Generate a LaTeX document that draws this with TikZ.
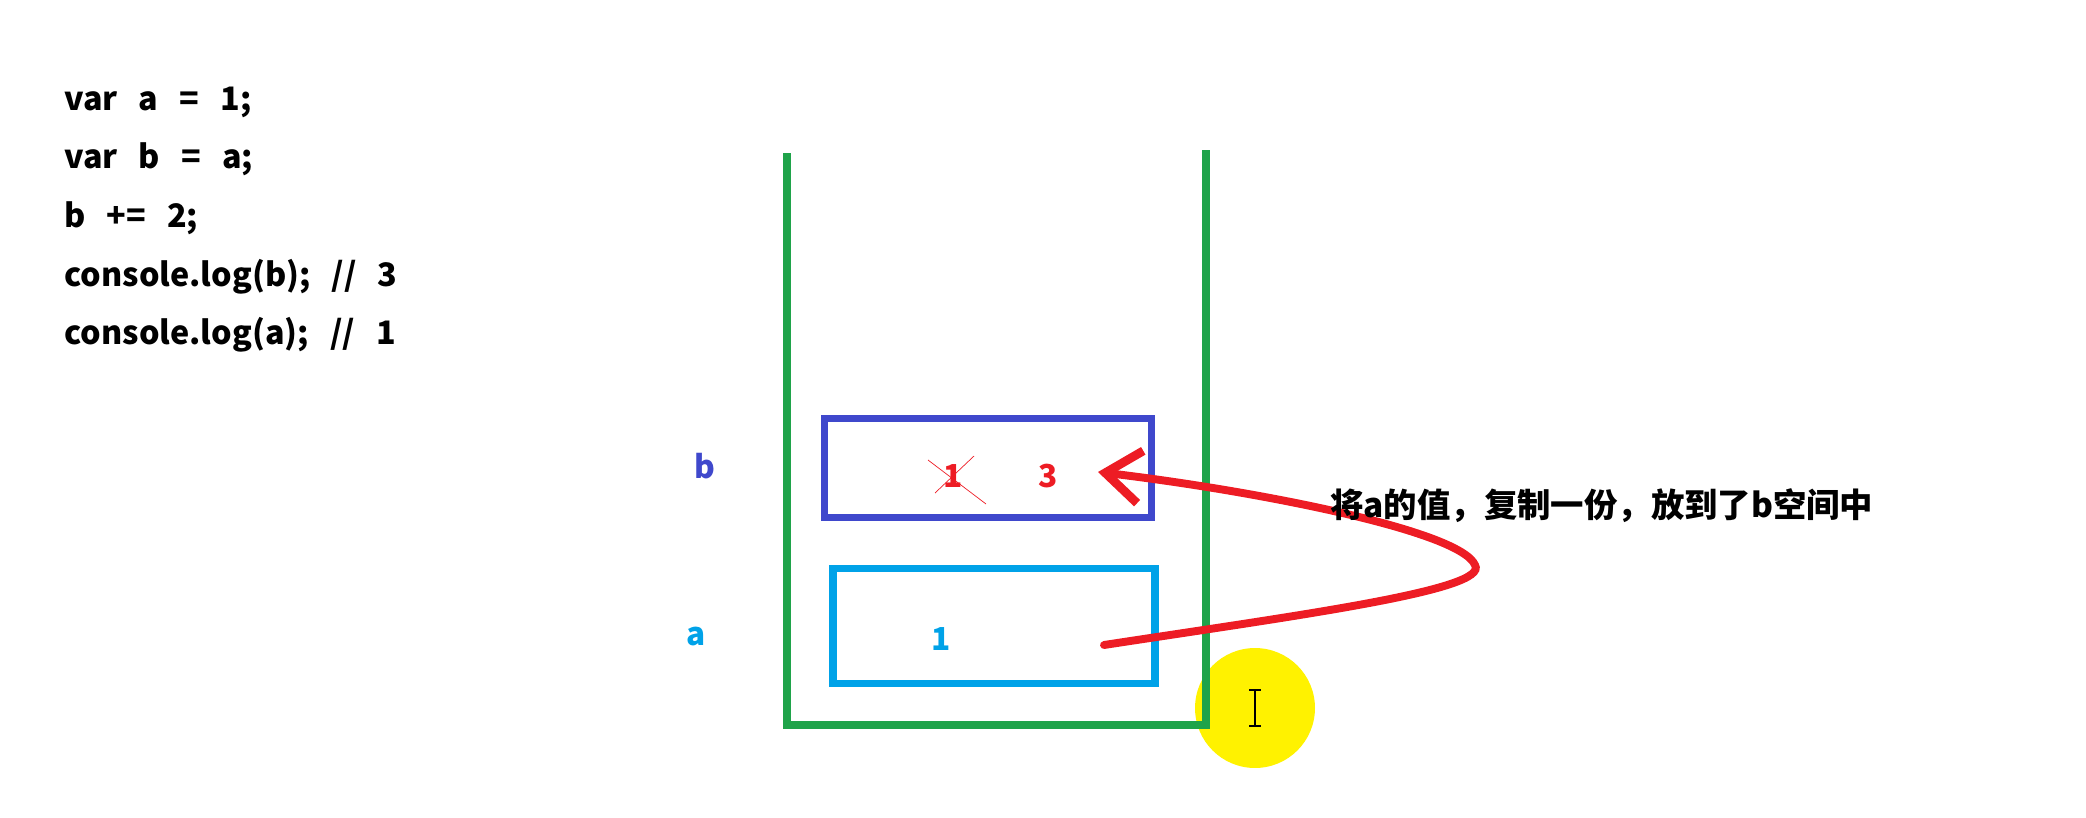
\documentclass[tikz,border=0pt]{standalone}
\usepackage{fontspec}
\setmainfont{Noto Sans CJK SC}
\usetikzlibrary{arrows.meta}
\definecolor{stackgreen}{HTML}{1FA34A}
\definecolor{bblue}{HTML}{3F48CC}
\definecolor{ablue}{HTML}{00A2E8}
\definecolor{penred}{HTML}{ED1C24}
\definecolor{hiyellow}{HTML}{FFF200}

\begin{document}
\begin{tikzpicture}[x=0.02cm, y=-0.02cm,
    code/.style={anchor=base west, inner sep=0pt, font=\fontsize{18.4}{20}\selectfont\bfseries,
        execute at begin node={\spaceskip=12pt\relax}},
    val/.style={inner sep=0pt, font=\fontsize{18}{20}\selectfont\bfseries},
    slot/.style={draw, line width=4.5pt, inner sep=0pt}]
\useasboundingbox (0,0) rectangle (2086,818);
                        \node[code] (l1) at (64,110) {var a = 1;};
                        \node[code] (l2) at (64,168) {var b = a;};
                        \node[code] (l3) at (64,227) {b += 2;};
                        \node[code] (l4) at (64,286) {console.log(b); // 3};
                        \node[code] (l5) at (64,344) {console.log(a); // 1};
                        \node[circle, fill=hiyellow, minimum size=2.4cm] (cursor) at (1255,708) {};
			\draw[stackgreen, line width=4.5pt] (787,153) -- (787,725) -- (1206,725) -- (1206,150);
                        \node[slot, draw=bblue, minimum width=6.54cm, minimum height=1.98cm] (bbox) at (988,468) {};
                        \node[slot, draw=ablue, minimum width=6.44cm, minimum height=2.3cm] (abox) at (994,626) {};
                        \node[val, text=bblue] (blab) at (705,466) {b};
                        \node[val, text=ablue] (alab) at (696,636) {a};
                        \node[val, text=penred] (old) at (953,476) {1};
                        \node[val, text=penred] (new) at (1048,476) {3};
                        \node[val, text=ablue] (aval) at (941,639) {1};
			\draw[penred, thin] (old) ++(-25,-16) -- ++(58,44);
			\draw[penred, thin] (old) ++(21,-20) -- ++(-39,37);
                        \coordinate (src) at (1104,645);
                        \coordinate (dst) at (1098,472);
			\draw[penred, line width=4.5pt, line cap=round, -{Straight Barb[length=20pt, width=30pt, line width=5pt]}]
                            (src) .. controls (1300,615) and (1490,590) .. (1475,565)
                            .. controls (1460,530) and (1250,490) .. (dst);
                        \node[anchor=west, inner sep=0pt, font=\fontsize{19}{21}\selectfont\bfseries] (note) at (1330,506) {将a的值，复制一份，放到了b空间中};
			\draw[black, line width=0.8pt] (cursor) ++(-6,-18) -- ++(12,0) (cursor) ++(0,-18) -- ++(0,36) (cursor) ++(-6,18) -- ++(12,0);
                \end{tikzpicture}
\end{document}
